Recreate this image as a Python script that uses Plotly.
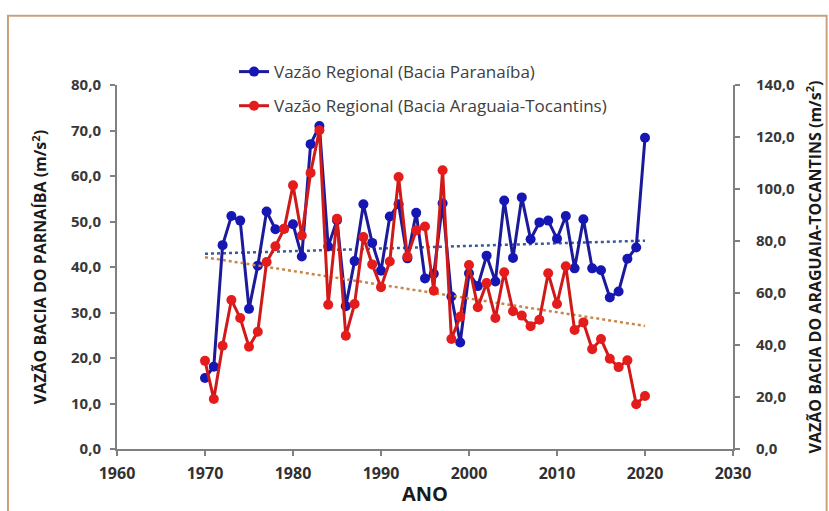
import numpy as np
import plotly.graph_objects as go

years = list(range(1970, 2021))
paranaiba = [15.6, 18.1, 44.8, 51.2, 50.2, 30.8, 40.3, 52.2, 48.3, 48.4,
             49.4, 42.3, 67.0, 71.0, 44.5, 50.3, 31.4, 41.3, 53.8, 45.3,
             39.2, 51.1, 53.8, 41.9, 51.9, 37.5, 38.5, 54.0, 33.5, 23.4,
             38.6, 35.8, 42.5, 36.8, 54.6, 42.0, 55.3, 46.1, 49.8, 50.2,
             46.2, 51.2, 39.7, 50.5, 39.7, 39.3, 33.3, 34.6, 41.8, 44.3,
             68.4]
araguaia = [33.9, 19.2, 39.7, 57.3, 50.4, 39.3, 45.1, 71.9, 78.0, 84.7,
            101.4, 82.1, 106.2, 122.6, 55.5, 88.6, 43.6, 55.8, 81.5, 71.0,
            62.2, 72.1, 104.6, 74.0, 84.1, 85.6, 60.9, 107.2, 42.3, 50.9,
            70.8, 54.5, 63.8, 50.4, 68.0, 53.0, 51.3, 47.2, 49.7, 67.6,
            55.8, 70.3, 45.8, 48.7, 38.4, 42.3, 34.7, 31.5, 34.1, 17.2,
            20.4]

name_p = "Vazão Regional (Bacia Paranaíba)"
name_a = "Vazão Regional (Bacia Araguaia-Tocantins)"

yr = np.array(years, dtype=float)
cp = np.polyfit(yr, paranaiba, 1)
ca = np.polyfit(yr, araguaia, 1)
tx = [1970, 2020]
tp = [float(np.polyval(cp, x)) for x in tx]
ta = [float(np.polyval(ca, x)) for x in tx]

blue = "#1616b4"
red = "#e41c1c"

fig = go.Figure()
fig.add_trace(go.Scatter(x=tx, y=tp, mode="lines", showlegend=False,
                         line=dict(color="#3a5a9a", width=2.5, dash="dot"),
                         hoverinfo="skip"))
fig.add_trace(go.Scatter(x=tx, y=ta, mode="lines", showlegend=False, yaxis="y2",
                         line=dict(color="#c8864a", width=2.5, dash="dot"),
                         hoverinfo="skip"))
fig.add_trace(go.Scatter(x=years, y=paranaiba, name=name_p, mode="lines+markers",
                         legendgroup="p",
                         line=dict(color="#1a1a9a", width=3),
                         marker=dict(color=blue, size=10, symbol="circle")))
fig.add_trace(go.Scatter(x=years, y=araguaia, name=name_a, mode="lines+markers",
                         legendgroup="a", yaxis="y2",
                         line=dict(color="#d01a1a", width=3),
                         marker=dict(color=red, size=10, symbol="circle")))

tickfont = dict(family="Open Sans, Liberation Sans, sans-serif", size=15,
                color="#383838", weight="bold")
axis_common = dict(showline=True, linecolor="#808080", linewidth=2,
                   ticks="outside", ticklen=5, tickcolor="#808080", tickwidth=1.5,
                   showgrid=False, zeroline=False, automargin=False)

fig.update_layout(
    width=829, height=511,
    margin=dict(l=117, r=96, t=85, b=62),
    paper_bgcolor="white", plot_bgcolor="white",
    separators=",.",
    xaxis=dict(range=[1960, 2030], tickmode="array",
               tickvals=[1960, 1970, 1980, 1990, 2000, 2010, 2020, 2030],
               tickformat="d", ticklabelstandoff=4,
               tickfont=dict(family="Open Sans, sans-serif", size=16, color="#303030", weight="bold"),
               title=dict(text="<b>ANO</b>", standoff=4,
                          font=dict(family="Open Sans, sans-serif", size=20, color="#1a1a1a")),
               **axis_common),
    yaxis=dict(range=[0, 80], tickmode="array",
               tickvals=[0, 10, 20, 30, 40, 50, 60, 70, 80], tickformat=".1f",
               tickfont=tickfont, ticklabelstandoff=6,
               title=dict(text="<b>VAZÃO BACIA DO PARNAÍBA (m/s<sup>2</sup>)</b>", standoff=20,
                          font=dict(family="Open Sans, sans-serif", size=16, color="#1a1a1a")),
               **axis_common),
    yaxis2=dict(range=[0, 140], overlaying="y", side="right", tickmode="array",
                tickvals=[0, 20, 40, 60, 80, 100, 120, 140], tickformat=".1f",
                tickfont=tickfont, ticklabelstandoff=13,
                title=dict(text="<b>VAZÃO BACIA DO ARAGUAIA-TOCANTINS (m/s<sup>2</sup>)</b>", standoff=16,
                           font=dict(family="Open Sans, sans-serif", size=16, color="#1a1a1a")),
                **axis_common),
    legend=dict(x=0.19, y=1.085, xanchor="left", yanchor="top",
                bgcolor="rgba(0,0,0,0)", tracegroupgap=9,
                font=dict(family="Open Sans, sans-serif", size=17, color="#404040")),
    shapes=[dict(type="rect", xref="paper", yref="paper",
                 x0=-0.177, x1=1.152, y0=-0.2, y1=1.19,
                 line=dict(color="#c8a27e", width=2), layer="below")],
)

fig.write_html("out.html")
